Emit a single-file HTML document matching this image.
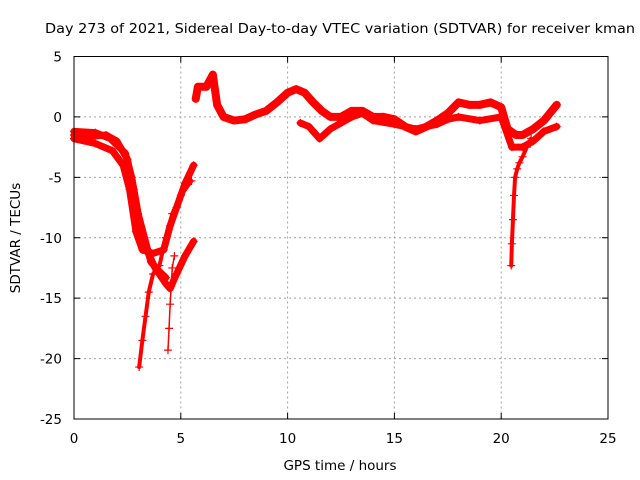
<!DOCTYPE html>
<html><head><meta charset="utf-8">
<style>
body{margin:0;background:#fff;}
svg{display:block;font-family:"DejaVu Sans","Liberation Sans",sans-serif;}
</style></head>
<body>
<svg id="chart" width="640" height="480" xmlns="http://www.w3.org/2000/svg">
<rect width="640" height="480" fill="#fff"/>
<text x="45" y="33" font-size="13.5" textLength="590" lengthAdjust="spacingAndGlyphs">Day 273 of 2021, Sidereal Day-to-day VTEC variation (SDTVAR) for receiver kman</text>
<text x="340" y="470" font-size="13.5" text-anchor="middle">GPS time / hours</text>
<text transform="translate(20,238) rotate(-90)" font-size="13.5" text-anchor="middle">SDTVAR / TECUs</text>
<g id="grid"></g>
<g id="series"></g>
<rect x="74" y="56.5" width="534" height="362.5" fill="none" stroke="#000" stroke-width="1"/>
<g id="ticks"></g>
</svg>
<script>
const xTicks=[0,5,10,15,20,25];
const yTicks=[5,0,-5,-10,-15,-20,-25];
// tracks: hours and values
const trackAh=[0,0.8,1.5,2,2.5,2.8,3.1,3.4,3.8,4.3,4.5,4.8,5.2,5.6];
const trackAv=[-1.5,-1.6,-1.5,-2,-3.5,-6,-9,-11,-12.5,-13.8,-14.2,-13,-11.5,-10.3];
const trackBh=[0,1,1.8,2.3,2.6,2.9,3.2,3.7,4.2,4.5,4.8,5.2,5.6];
const trackBv=[-1.8,-2.2,-2.8,-4,-6,-9.5,-11,-11.3,-11,-9,-7.5,-5.5,-4];
const trackCh=[0,1,1.7,2.4,2.7,3.0,3.3,3.6,4.0,4.3];
const trackCv=[-1.2,-1.3,-1.8,-3,-5,-8,-10,-12,-12.8,-13.3];
const trackDh=[3.05,3.2,3.35,3.5,3.7,4.0,4.3,4.6,5.0,5.5];
const trackDv=[-20.7,-18.5,-16.5,-14.5,-13,-12.3,-10,-8,-6.5,-5.3];
const trackEh=[4.4,4.45,4.5,4.55,4.6,4.7];
const trackEv=[-19.3,-17.5,-15.5,-14,-12.5,-11.5];
const trackFh=[5.7,5.8,6.2,6.5,6.7,7,7.5,8,8.5,9,9.5,10,10.4,10.8,11.2,11.6,12,12.5,13,13.5,14,14.5,15,15.5,16,16.5,17,17.5,18,18.5,19,19.5,20,20.3,20.7,21,21.5,22,22.6];
const trackFv=[1.5,2.5,2.5,3.5,1,0,-0.3,-0.2,0.2,0.5,1.2,2,2.3,2,1.2,0.5,0,0,0.5,0.5,0,0,-0.2,-0.8,-1.2,-0.8,-0.3,0.3,1.2,1,1,1.2,0.8,-1,-1.5,-1.5,-1,-0.3,1];
const trackGh=[10.6,11,11.5,12,12.5,13,13.5,14,15,16,17,17.5,18,19,20,20.5,21,21.5,22,22.6];
const trackGv=[-0.5,-0.8,-1.8,-1,-0.5,0,0.3,-0.3,-0.6,-1,-0.6,-0.2,0,-0.3,0,-2.5,-2.5,-2,-1.2,-0.8];
const trackHh=[20.47,20.5,20.55,20.6,20.65,20.75,20.85,21.0,21.2,21.4];
const trackHv=[-12.3,-10.5,-8.5,-6.5,-5,-4.3,-3.8,-3.3,-2.5,-1.8];
const tracks=[[trackAh,trackAv],[trackBh,trackBv],[trackCh,trackCv],[trackDh,trackDv],[trackEh,trackEv],[trackFh,trackFv],[trackGh,trackGv],[trackHh,trackHv]];
const widths=[7,7,7,4,1.5,8,7,4];
const NS="http://www.w3.org/2000/svg";
const X0=74,X1=608,Y0=419,Y1=56.5,xmin=0,xmax=25,ymin=-25,ymax=5;
function xs(h){return X0+(h-xmin)/(xmax-xmin)*(X1-X0);}
function ys(v){return Y0-(v-ymin)/(ymax-ymin)*(Y0-Y1);}
const grid=document.getElementById('grid'),ticks=document.getElementById('ticks'),ser=document.getElementById('series');
xTicks.forEach(t=>{
  const x=xs(t);
  if(t>xmin&&t<xmax){
    const l=document.createElementNS(NS,'line');
    
    
    l.setAttribute('x1',x);l.setAttribute('x2',x);l.setAttribute('y1',Y1);l.setAttribute('y2',Y0);
    l.setAttribute('stroke','#a0a0a0');l.setAttribute('stroke-dasharray','2,3');grid.appendChild(l);
  }
  const tk=document.createElementNS(NS,'path');
  
  
  tk.setAttribute('d',`M${x},${Y0}v-6M${x},${Y1}v6`);tk.setAttribute('stroke','#000');ticks.appendChild(tk);
  const tx=document.createElementNS(NS,'text');
  
  
  tx.setAttribute('x',x);tx.setAttribute('y',443);tx.setAttribute('font-size','13.5');tx.setAttribute('text-anchor','middle');
  tx.textContent=t;ticks.appendChild(tx);
});
yTicks.forEach(t=>{
  const y=ys(t);
  if(t>ymin&&t<ymax){
    const l=document.createElementNS(NS,'line');
    
    
    l.setAttribute('x1',X0);l.setAttribute('x2',X1);l.setAttribute('y1',y);l.setAttribute('y2',y);
    l.setAttribute('stroke','#a0a0a0');l.setAttribute('stroke-dasharray','2,3');grid.appendChild(l);
  }
  const tk=document.createElementNS(NS,'path');
  
  
  tk.setAttribute('d',`M${X0},${y}h6M${X1},${y}h-6`);tk.setAttribute('stroke','#000');ticks.appendChild(tk);
  const tx=document.createElementNS(NS,'text');
  
  
  tx.setAttribute('x',62);tx.setAttribute('y',y+5);tx.setAttribute('font-size','13.5');tx.setAttribute('text-anchor','end');
  tx.textContent=t;ticks.appendChild(tx);
});
tracks.forEach((tr,i)=>{
  const [hs,vs]=tr;
  const pts=hs.map((h,j)=>xs(h)+','+ys(vs[j])).join(' ');
  const pl=document.createElementNS(NS,'polyline');
  
  
  pl.setAttribute('points',pts);pl.setAttribute('fill','none');pl.setAttribute('stroke','#ff0000');
  pl.setAttribute('stroke-width',widths[i]);pl.setAttribute('stroke-linejoin','round');pl.setAttribute('stroke-linecap','round');
  ser.appendChild(pl);
  hs.forEach((h,j)=>{
    const x=xs(h),y=ys(vs[j]);
    const m=document.createElementNS(NS,'path');
    
    
    m.setAttribute('d',`M${x-4},${y}h8M${x},${y-4}v8`);m.setAttribute('stroke','#ff0000');m.setAttribute('stroke-width','1.2');
    ser.appendChild(m);
  });
});
</script>
</body></html>
